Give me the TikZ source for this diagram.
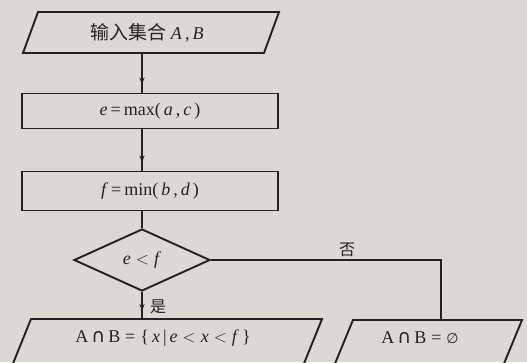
\documentclass[tikz,border=0pt]{standalone}
\usepackage{fontspec}
\setmainfont{Liberation Serif}
\newfontfamily\cjk{Noto Sans CJK SC}
\newfontfamily\symf{DejaVu Sans}
\usetikzlibrary{shapes.geometric,arrows.meta,decorations.markings}
\definecolor{paper}{HTML}{DCD9D2}
\definecolor{ink}{HTML}{222222}
\newcommand{\vi}[1]{\textit{#1}}
\newcommand{\capsym}{\,{\symf\fontsize{19}{20}\selectfont ∩}\,}
\newcommand{\lsym}{\;$<$\;}
\tikzset{
  shapeline/.style={draw=ink, line width=1.9pt, line join=miter},
  txt/.style={font=\fontsize{18}{20}\selectfont, text=ink, inner sep=0pt},
  proc/.style={shapeline, rectangle, minimum width=256pt, inner sep=0pt, txt},
  flow/.style={draw=ink, line width=1.3pt, postaction={decorate},
    decoration={markings, mark=at position -8pt with {\arrow{Stealth[length=7pt,width=5pt]}}}},
  plainflow/.style={draw=ink, line width=1.3pt},
  lab/.style={font=\cjk\fontsize{16}{18}\selectfont, text=ink, inner sep=0pt}
}
\begin{document}
\begin{tikzpicture}[x=1pt,y=-1pt]
\useasboundingbox (0,0) rectangle (527,362);
\fill[paper] (0,0) rectangle (527,362);
\begin{scope}
\clip (0,0) rectangle (527,362);
% input parallelogram
\draw[shapeline] (38,12) -- (279,12) -- (264,53) -- (23,53) -- cycle;
\node[txt] (in) at (147,33) {{\cjk\fontsize{19}{21}\selectfont 输入集合}\ \vi{A}\,,\,\vi{B}};
\coordinate (inb) at (142,53);
% process boxes
\node[proc, minimum height=35pt] (e) at (150,111) {\vi{e}\,=\,max(\,\vi{a}\,,\,\vi{c}\,)};
\node[proc, minimum height=39pt] (f) at (150,191) {\vi{f}\,=\,min(\,\vi{b}\,,\,\vi{d}\,)};
% decision
\node[shapeline, diamond, minimum width=136pt, minimum height=62pt, inner sep=0pt, txt] (d) at (142,260) {\vi{e}\lsym\vi{f}};
% output parallelograms (bottom cut by the page edge)
\draw[shapeline] (12,366) -- (31,319) -- (322,319) -- (303,366);
\node[txt] (yes) at (163,338) {A\capsym B\;=\;\{\,\vi{x}\,|\,\vi{e}\lsym\vi{x}\lsym\vi{f}\,\}};
\draw[shapeline] (334,366) -- (353,320) -- (522,320) -- (503,366);
\node[txt] (no) at (420,338) {A\capsym B\;=\;{\symf\fontsize{14}{16}\selectfont ∅}};
\coordinate (yt) at (142,319);
\coordinate (nt) at (441,320);
% connectors
\draw[flow] (inb) -- (inb |- e.north);
\draw[flow] (e.south -| inb) -- (f.north -| inb);
\draw[plainflow] (f.south -| d.north) -- (d.north);
\draw[flow] (d.south) -- (yt);
\draw[plainflow] (d.east) -| (nt);
\node[lab] (nolab) at (347,250) {否};
\node[lab] (yeslab) at (158,307) {是};
\end{scope}
\end{tikzpicture}
\end{document}
